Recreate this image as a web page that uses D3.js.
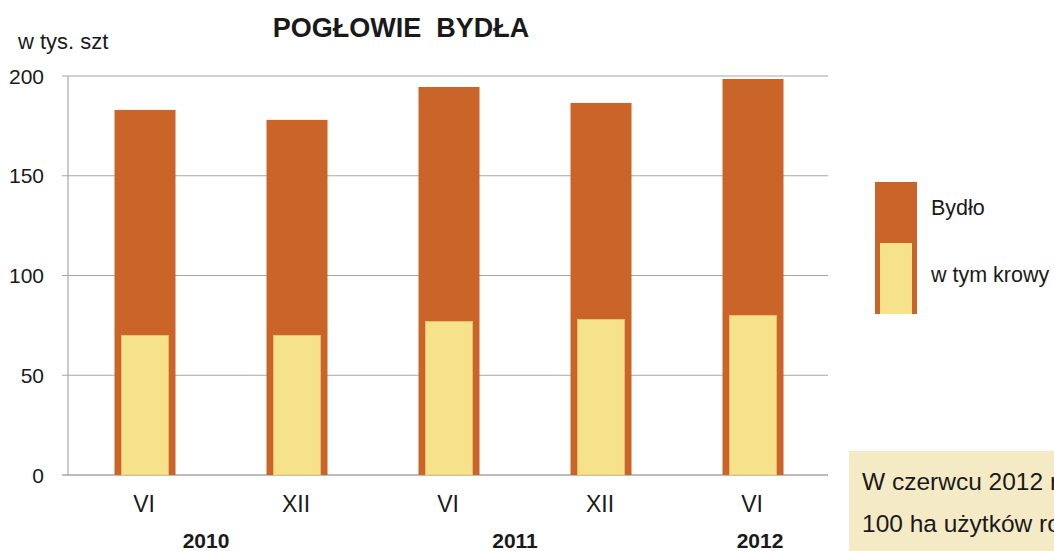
<!DOCTYPE html>
<html>
<head>
<meta charset="utf-8">
<script src="https://cdn.jsdelivr.net/npm/d3@7"></script>
<style>
  body { margin: 0; background: #fff; }
  text { font-family: "Liberation Sans", Arial, sans-serif; fill: #1a1a1a; }
</style>
</head>
<body>
<script>
// dane
var miesiace = ['VI', 'XII', 'VI', 'XII', 'VI'];
var bydlo = [183, 178, 194.5, 186.5, 198.5];
var krowy = [70, 70, 77, 78, 80];
var lata = [{rok: '2010', od: 0, off: -14}, {rok: '2011', od: 2, off: -9}, {rok: '2012', od: 4, off: 8}];
var yTicks = [0, 50, 100, 150, 200];

var svg = d3.select('body').append('svg').attr('width', 1054).attr('height', 551);

var x = d3.scaleBand().domain(d3.range(miesiace.length)).range([68, 828]);
var y = d3.scaleLinear().domain([0, 200]).range([475, 76]);

// tytuł
svg.append('text')
   .attr('x', 401).attr('y', 37)
   .attr('text-anchor', 'middle')
   .attr('font-size', 27).attr('font-weight', 'bold')
   .style('white-space', 'pre')
   .text('POGŁOWIE  BYDŁA');

svg.append('text')
   .attr('x', 18).attr('y', 49)
   .attr('font-size', 22)
   .text('w tys. szt');

// siatka
svg.selectAll('line.grid')
   .data(yTicks).enter().append('line')
   .attr('class', 'grid')
   .attr('x1', 62).attr('x2', 828)
   .attr('y1', d => y(d)).attr('y2', d => y(d))
   .attr('stroke', '#a6a6a6').attr('stroke-width', d => d == 0 ? 1.5 : 1.2);

svg.append('line')
   .attr('x1', 68).attr('x2', 68)
   .attr('y1', y(200)).attr('y2', y(0))
   .attr('stroke', '#a6a6a6').attr('stroke-width', 1.2);

svg.selectAll('text.ytick')
   .data(yTicks).enter().append('text')
   .attr('class', 'ytick')
   .attr('x', 44).attr('y', d => y(d) + 7.5)
   .attr('text-anchor', 'end')
   .attr('font-size', 21)
   .text(d => d);

// słupki
var bw = 61, kw = 47;
svg.selectAll('rect.bydlo')
   .data(bydlo).enter().append('rect')
   .attr('class', 'bydlo')
   .attr('x', (d, i) => x(i) + x.bandwidth() / 2 - bw / 2 + 1)
   .attr('y', d => y(d))
   .attr('width', bw)
   .attr('height', d => y(0) - y(d))
   .attr('fill', '#cb6428');

svg.selectAll('rect.krowy')
   .data(krowy).enter().append('rect')
   .attr('class', 'krowy')
   .attr('x', (d, i) => x(i) + x.bandwidth() / 2 - kw / 2 + 1)
   .attr('y', d => y(d))
   .attr('width', kw)
   .attr('height', d => y(0) - y(d))
   .attr('fill', '#f6e28b')
   .attr('stroke', '#efc46e').attr('stroke-width', 0.8);

// etykiety osi X
svg.selectAll('text.mies')
   .data(miesiace).enter().append('text')
   .attr('class', 'mies')
   .attr('x', (d, i) => x(i) + x.bandwidth() / 2)
   .attr('y', 512)
   .attr('text-anchor', 'middle')
   .attr('font-size', 23)
   .text(d => d);

svg.selectAll('text.rok')
   .data(lata).enter().append('text')
   .attr('class', 'rok')
   .attr('x', d => (d.od < 4 ? x(d.od) + x.bandwidth() : x(d.od) + x.bandwidth() / 2) + d.off)
   .attr('y', 548)
   .attr('text-anchor', 'middle')
   .attr('font-size', 21).attr('font-weight', 'bold')
   .text(d => d.rok);

// legenda
svg.append('rect').attr('x', 875).attr('y', 182).attr('width', 42).attr('height', 132).attr('fill', '#cb6428');
svg.append('rect').attr('x', 880).attr('y', 243).attr('width', 32).attr('height', 71).attr('fill', '#f6e28b');
svg.append('text').attr('x', 931).attr('y', 215).attr('font-size', 21.5).text('Bydło');
svg.append('text').attr('x', 931).attr('y', 282).attr('font-size', 21.5).text('w tym krowy');

// ramka z komentarzem
svg.append('rect').attr('x', 849).attr('y', 451).attr('width', 220).attr('height', 110).attr('fill', '#f5eac6');
svg.append('text').attr('x', 862).attr('y', 490).attr('font-size', 24.5).text('W czerwcu 2012 r. na');
svg.append('text').attr('x', 862).attr('y', 532).attr('font-size', 24.5).text('100 ha użytków rolnych');
</script>
</body>
</html>
